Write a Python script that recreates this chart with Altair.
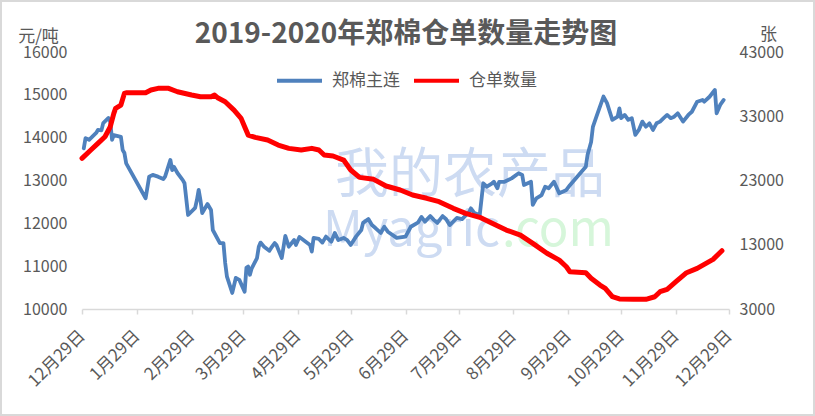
import altair as alt
import pandas as pd

chart_title = "2019-2020年郑棉仓单数量走势图"
series_names = ["郑棉主连", "仓单数量"]
series_colors = ["#4F81BD", "#FF0000"]

price_dates = [
    "2019-12-30", "2019-12-31", "2020-01-02", "2020-01-06", "2020-01-07", "2020-01-09",
    "2020-01-10", "2020-01-13", "2020-01-14", "2020-01-15", "2020-01-16", "2020-01-20",
    "2020-01-21", "2020-01-22", "2020-01-23", "2020-02-03", "2020-02-05", "2020-02-07",
    "2020-02-10", "2020-02-13", "2020-02-14", "2020-02-17", "2020-02-18", "2020-02-19",
    "2020-02-21", "2020-02-24", "2020-02-25", "2020-02-27", "2020-03-02", "2020-03-03",
    "2020-03-04", "2020-03-05", "2020-03-06", "2020-03-09", "2020-03-11", "2020-03-12",
    "2020-03-16", "2020-03-18", "2020-03-19", "2020-03-20", "2020-03-23", "2020-03-25",
    "2020-03-27", "2020-03-30", "2020-03-31", "2020-04-01", "2020-04-02", "2020-04-03",
    "2020-04-06", "2020-04-07", "2020-04-08", "2020-04-10", "2020-04-13", "2020-04-14",
    "2020-04-16", "2020-04-17", "2020-04-20", "2020-04-22", "2020-04-24", "2020-04-27",
    "2020-04-28", "2020-04-30", "2020-05-06", "2020-05-07", "2020-05-08", "2020-05-11",
    "2020-05-13", "2020-05-15", "2020-05-18", "2020-05-20", "2020-05-22", "2020-05-25",
    "2020-05-27", "2020-05-29", "2020-06-01", "2020-06-04", "2020-06-05", "2020-06-08",
    "2020-06-10", "2020-06-12", "2020-06-15", "2020-06-17", "2020-06-19", "2020-06-23",
    "2020-06-24", "2020-06-29", "2020-07-02", "2020-07-06", "2020-07-08", "2020-07-10",
    "2020-07-13", "2020-07-15", "2020-07-17", "2020-07-20", "2020-07-22", "2020-07-24",
    "2020-07-28", "2020-07-31", "2020-08-04", "2020-08-05", "2020-08-07", "2020-08-10",
    "2020-08-12", "2020-08-14", "2020-08-17", "2020-08-18", "2020-08-20", "2020-08-21",
    "2020-08-24", "2020-08-28", "2020-09-01", "2020-09-03", "2020-09-04", "2020-09-08",
    "2020-09-09", "2020-09-11", "2020-09-14", "2020-09-16", "2020-09-18", "2020-09-21",
    "2020-09-24", "2020-09-28", "2020-09-30", "2020-10-09", "2020-10-10", "2020-10-12",
    "2020-10-13", "2020-10-15", "2020-10-19", "2020-10-21", "2020-10-24", "2020-10-27",
    "2020-10-28", "2020-10-29", "2020-10-31", "2020-11-02", "2020-11-04", "2020-11-06",
    "2020-11-08", "2020-11-10", "2020-11-12", "2020-11-14", "2020-11-16", "2020-11-18",
    "2020-11-20", "2020-11-22", "2020-11-24", "2020-11-26", "2020-11-28", "2020-11-30",
    "2020-12-03", "2020-12-06", "2020-12-08", "2020-12-11", "2020-12-14", "2020-12-15",
    "2020-12-18", "2020-12-21", "2020-12-22", "2020-12-24", "2020-12-26",
]
price_values = [
    13750, 13990, 13950, 14110, 14180, 14170,
    14340, 14460, 14370, 13950, 14060, 14020,
    13710, 13640, 13400, 12585, 13090, 13130,
    13090, 13035, 13090, 13480, 13245, 13320,
    13175, 13010, 12935, 12195, 12360, 12545,
    12780, 12545, 12240, 12450, 12310, 11845,
    11540, 11540, 11075, 10755, 10375, 10725,
    10680, 10405, 10960, 10990, 10800, 10950,
    11190, 11455, 11550, 11455, 11360, 11425,
    11540, 11495, 11190, 11705, 11455, 11610,
    11495, 11680, 11495, 11340, 11660, 11635,
    11550, 11690, 11570, 11775, 11610, 11660,
    11610, 11495, 11690, 11845, 12010, 12100,
    11960, 11890, 11775, 11920, 11805, 11690,
    11660, 11690, 11920, 12015, 12150, 12040,
    12170, 12080, 12010, 12170, 12095, 11960,
    12125, 12100, 12265, 12350, 12240, 12195,
    12935, 12855, 12935, 12970, 12820, 12970,
    12970, 13050, 13170, 13130, 12895, 12970,
    12430, 12585, 12660, 12855, 12820, 12970,
    12700, 12780, 12890, 13320, 13600, 13900,
    14250, 14490, 14960, 14805, 14415, 14490,
    14685, 14455, 14530, 14415, 14455, 14065,
    14180, 14375, 14255, 14335, 14180, 14335,
    14375, 14455, 14530, 14455, 14490, 14570,
    14375, 14530, 14605, 14840, 14880, 14840,
    14955, 15115, 14570, 14765, 14880,
]

receipt_dates = [
    "2019-12-29", "2020-01-03", "2020-01-07", "2020-01-11", "2020-01-14", "2020-01-16",
    "2020-01-17", "2020-01-20", "2020-01-22", "2020-01-23", "2020-02-03", "2020-02-06",
    "2020-02-10", "2020-02-16", "2020-02-21", "2020-02-29", "2020-03-05", "2020-03-11",
    "2020-03-13", "2020-03-15", "2020-03-19", "2020-03-24", "2020-03-28", "2020-03-30",
    "2020-04-01", "2020-04-05", "2020-04-12", "2020-04-18", "2020-04-24", "2020-05-01",
    "2020-05-07", "2020-05-11", "2020-05-14", "2020-05-19", "2020-05-25", "2020-05-29",
    "2020-06-03", "2020-06-11", "2020-06-18", "2020-06-26", "2020-07-03", "2020-07-11",
    "2020-07-18", "2020-07-26", "2020-08-02", "2020-08-10", "2020-08-17", "2020-08-25",
    "2020-09-02", "2020-09-09", "2020-09-17", "2020-09-24", "2020-09-28", "2020-09-30",
    "2020-10-09", "2020-10-12", "2020-10-17", "2020-10-20", "2020-10-24", "2020-10-28",
    "2020-11-05", "2020-11-12", "2020-11-17", "2020-11-20", "2020-11-24", "2020-11-29",
    "2020-12-05", "2020-12-11", "2020-12-16", "2020-12-20", "2020-12-25",
]
receipt_values = [
    26450, 27740, 28780, 29810, 31370, 33450,
    34230, 34740, 36560, 36660, 36660, 37080,
    37340, 37340, 36810, 36300, 36030, 36030,
    36300, 35830, 35260, 33960, 32670, 31370,
    30070, 29720, 29300, 28520, 28000, 27740,
    28000, 27740, 26960, 26810, 26180, 24630,
    23490, 23180, 22140, 21520, 20740, 20230,
    19700, 18670, 17890, 17270, 16330, 15290,
    14510, 13220, 11670, 10600, 9580, 8800,
    8650, 7780, 6730, 6220, 4910, 4560,
    4510, 4510, 4910, 5690, 6070, 7250,
    8650, 9330, 10110, 10730, 12070,
]

tick_dates = [
    "2019-12-29", "2020-01-29", "2020-02-29", "2020-03-29", "2020-04-29", "2020-05-29",
    "2020-06-29", "2020-07-29", "2020-08-29", "2020-09-29", "2020-10-29", "2020-11-29",
    "2020-12-29",
]
left_ticks = [10000, 11000, 12000, 13000, 14000, 15000, 16000]
right_ticks = [3000, 13000, 23000, 33000, 43000]

FONT = "Noto Sans CJK SC"
GREY = "#595959"

price_df = pd.DataFrame({"date": price_dates, "value": price_values, "series": series_names[0]})
receipt_df = pd.DataFrame({"date": receipt_dates, "value": receipt_values, "series": series_names[1]})
dummy = pd.DataFrame({"k": [0]})


def dt(s):
    y, m, d = (int(p) for p in s.split("-"))
    return alt.DateTime(year=y, month=m, date=d, utc=True)


x_scale = alt.Scale(type="utc", domain=[dt(tick_dates[0]), dt(tick_dates[-1])])
x_axis = alt.Axis(
    values=[dt(s) for s in tick_dates],
    labelExpr="(utcmonth(datum.value)+1) + '月' + utcdate(datum.value) + '日'",
    labelAngle=-45, labelAlign="right", labelBaseline="middle",
    labelFontSize=17, labelColor=GREY, labelFont=FONT, labelPadding=19,
    labelOverlap=False, labelBound=False, labelFlush=False,
    domainColor="#d9d9d9", domainWidth=1.5, tickColor="#d9d9d9", tickSize=5, tickWidth=1.5,
    grid=False, title=None,
)
color = alt.Color(
    "series:N",
    scale=alt.Scale(domain=series_names, range=series_colors),
    legend=alt.Legend(
        title=None, orient="none", legendX=193, legendY=4, direction="horizontal",
        symbolType="stroke", symbolStrokeWidth=4, symbolSize=2025,
        labelFontSize=17, labelColor=GREY, labelFont=FONT, labelOffset=8, columnPadding=6,
    ),
)

border = alt.Chart(dummy).mark_rect(filled=False, stroke="#d9d9d9", strokeWidth=2).encode(
    x=alt.value(-81), x2=alt.value(732), y=alt.value(-51), y2=alt.value(363)
)
title_mark = alt.Chart(dummy).mark_text(
    font=FONT, fontSize=28, fontWeight="bold", color=GREY, align="center", baseline="middle"
).encode(x=alt.value(324), y=alt.value(-17), text=alt.value(chart_title))
wm1 = alt.Chart(dummy).mark_text(font=FONT, fontSize=54, color="#cddbf2", align="center", baseline="middle").encode(
    x=alt.value(388), y=alt.value(125), text=alt.value("我的农产品")
)
wm2 = alt.Chart(dummy).mark_text(font=FONT, fontSize=49, color="#cddbf2", align="right", baseline="alphabetic").encode(
    x=alt.value(418), y=alt.value(194), text=alt.value("Myagric")
)
wm3 = alt.Chart(dummy).mark_text(font=FONT, fontSize=49, color="#d6f6da", align="left", baseline="alphabetic").encode(
    x=alt.value(420), y=alt.value(194), text=alt.value(".com")
)

price_line = alt.Chart(price_df).mark_line(strokeWidth=3.8, strokeCap="round", strokeJoin="round").encode(
    x=alt.X("date:T", scale=x_scale, axis=x_axis),
    y=alt.Y(
        "value:Q",
        scale=alt.Scale(domain=[10000, 16000], zero=False, nice=False),
        axis=alt.Axis(
            orient="left", values=left_ticks, format="d", domain=False, ticks=False, grid=False,
            labelFontSize=16, labelColor=GREY, labelFont=FONT, labelPadding=15,
            title="元/吨", titleAngle=0, titleX=-44, titleY=-16, titleAlign="center",
            titleBaseline="middle", titleFontSize=17, titleFontWeight="normal", titleColor=GREY, titleFont=FONT,
        ),
    ),
    color=color,
)
receipt_line = alt.Chart(receipt_df).mark_line(strokeWidth=5, strokeCap="round", strokeJoin="round").encode(
    x=alt.X("date:T", scale=x_scale, axis=x_axis),
    y=alt.Y(
        "value:Q",
        scale=alt.Scale(domain=[3000, 43000], zero=False, nice=False),
        axis=alt.Axis(
            orient="right", values=right_ticks, format="d", domain=False, ticks=False, grid=False,
            labelFontSize=16, labelColor=GREY, labelFont=FONT, labelPadding=10,
            title="张", titleAngle=0, titleX=39, titleY=-18, titleAlign="center",
            titleBaseline="middle", titleFontSize=17, titleFontWeight="normal", titleColor=GREY, titleFont=FONT,
        ),
    ),
    color=color,
)

chart = (
    alt.layer(border, title_mark, wm1, wm2, wm3, price_line, receipt_line)
    .resolve_scale(y="independent")
    .properties(
        width=647, height=257,
        padding={"left": 82, "right": 86, "top": 52, "bottom": 107},
        autosize=alt.AutoSizeParams(type="none"),
        background="white",
    )
    .configure_view(strokeWidth=0)
)

chart.save("out.html", embed_options={"renderer": "svg", "actions": False})
